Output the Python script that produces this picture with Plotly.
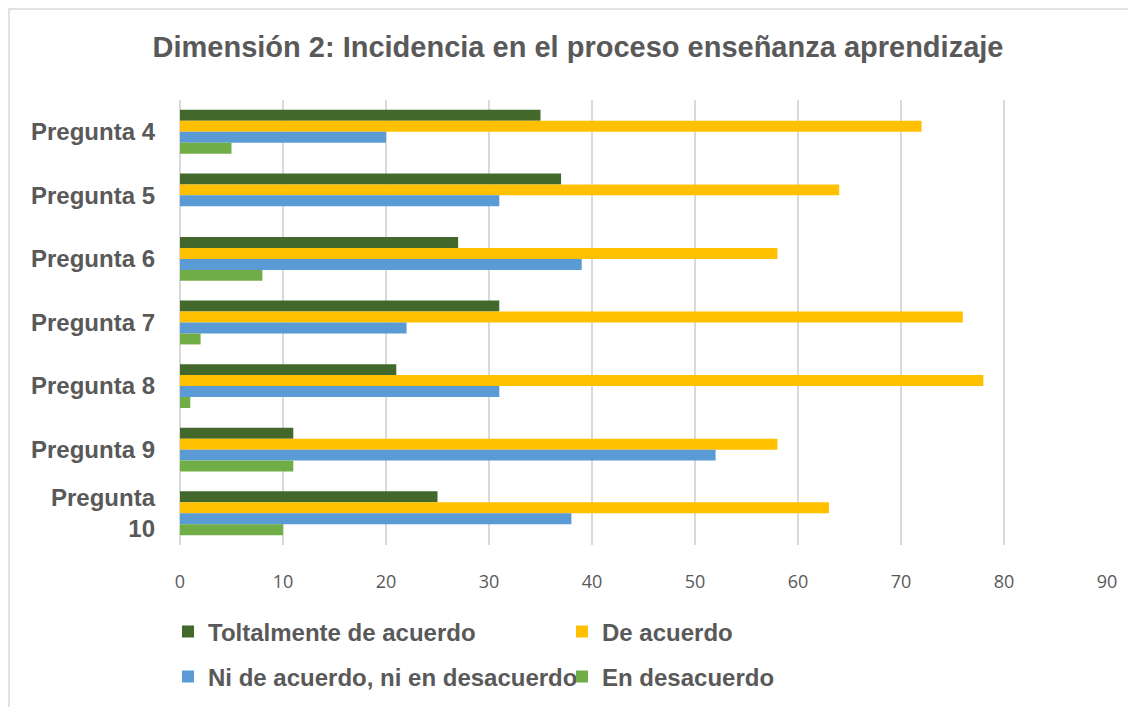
import plotly.graph_objects as go

categories = ["Pregunta 4", "Pregunta 5", "Pregunta 6", "Pregunta 7", "Pregunta 8", "Pregunta 9", "Pregunta 10"]
tick_labels = ["Pregunta 4", "Pregunta 5", "Pregunta 6", "Pregunta 7", "Pregunta 8", "Pregunta 9", "Pregunta<br>10"]

totalmente = [35, 37, 27, 31, 21, 11, 25]
de_acuerdo = [72, 64, 58, 76, 78, 58, 63]
ni_ni = [20, 31, 39, 22, 31, 52, 38]
en_desacuerdo = [5, 0, 8, 2, 1, 11, 10]

series = [
    ("Toltalmente de acuerdo", totalmente, "#43682B", "legend"),
    ("De acuerdo", de_acuerdo, "#FFC000", "legend"),
    ("Ni de acuerdo, ni en desacuerdo", ni_ni, "#5B9BD5", "legend2"),
    ("En desacuerdo", en_desacuerdo, "#70AD47", "legend2"),
]

fig = go.Figure()
for name, vals, color, leg in series:
    fig.add_trace(go.Bar(
        y=categories, x=vals, name=name, orientation="h",
        marker=dict(color=color, line=dict(width=0)),
        legend=leg,
    ))

# page body margin shifts figure by 8px; work in screen pixels
OFF = 8
W, H = 1136, 707
# plot area in screen px: x 180..1107, y 100..545
L = 180 - OFF
T = 100 - OFF
pw, ph = 927, 445
R = W - L - pw
B = H - T - ph

def px_x(p):
    return (p - OFF - L) / pw

def px_y(p):
    return (T + ph - (p - OFF)) / ph

grey = "#595959"
legfont = dict(family="Liberation Sans, Arial, sans-serif", size=24, color=grey, weight="bold")

fig.update_layout(
    width=W, height=H,
    margin=dict(l=L, r=R, t=T, b=B),
    paper_bgcolor="white", plot_bgcolor="white",
    barmode="group", bargap=0.31, bargroupgap=0,
    title=dict(
        text="Dimensión 2: Incidencia en el proceso enseñanza aprendizaje",
        x=(578 - OFF) / W, xref="container", xanchor="center",
        y=1 - (47 - OFF) / H, yref="container", yanchor="middle",
        font=dict(family="Liberation Sans, Arial, sans-serif", size=29, color=grey, weight="bold"),
    ),
    xaxis=dict(
        range=[0, 90], dtick=10, tick0=0,
        showgrid=True, gridcolor="#D9D9D9", gridwidth=1.5,
        zeroline=True, zerolinecolor="#D9D9D9", zerolinewidth=1.5,
        showline=False, ticks="",
        tickfont=dict(family="Open Sans, sans-serif", size=18, color=grey),
        ticklabelstandoff=24,
    ),
    yaxis=dict(
        autorange="reversed",
        tickmode="array", tickvals=categories, ticktext=tick_labels,
        showgrid=False, zeroline=False, showline=False, ticks="",
        tickfont=dict(family="Liberation Sans, Arial, sans-serif", size=24, color=grey, weight="bold"),
        ticklabelstandoff=24,
    ),
    legend=dict(
        orientation="h", x=px_x(168), xanchor="left", y=px_y(632), yanchor="middle",
        entrywidth=349, entrywidthmode="pixels", font=legfont, bgcolor="rgba(0,0,0,0)",
        traceorder="normal",
    ),
    legend2=dict(
        orientation="h", x=px_x(168), xanchor="left", y=px_y(677), yanchor="middle",
        entrywidth=349, entrywidthmode="pixels", font=legfont, bgcolor="rgba(0,0,0,0)",
        traceorder="normal",
    ),
    shapes=[dict(
        type="rect", xref="paper", yref="paper",
        x0=px_x(9), x1=px_x(1150), y0=px_y(720), y1=px_y(9),
        line=dict(color="#D9D9D9", width=1.5), fillcolor="rgba(0,0,0,0)", layer="below",
    )],
)

fig.write_html("out.html")
